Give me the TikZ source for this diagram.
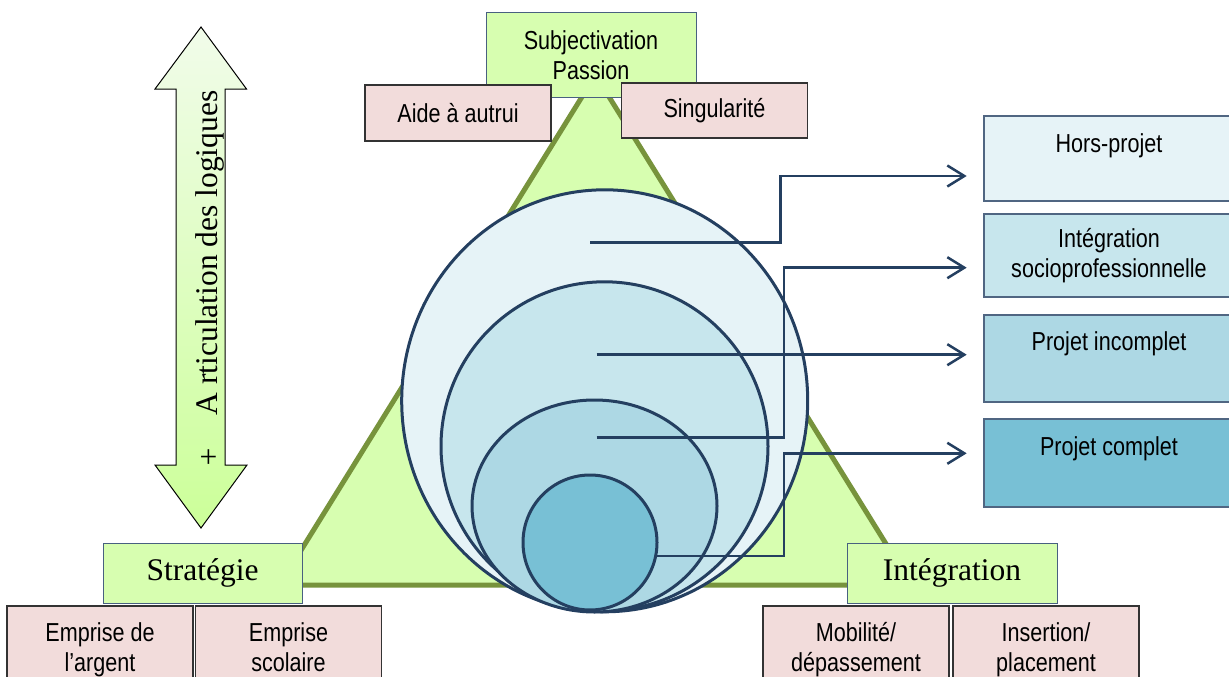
\documentclass[tikz,border=0pt]{standalone}
\usepackage{fontspec}
\setmainfont[FakeStretch=0.83]{Liberation Sans}
\newfontfamily\timesface{Liberation Serif}
\usetikzlibrary{arrows.meta,shapes.geometric,positioning}
\definecolor{trifill}{RGB}{215,254,176}
\definecolor{triline}{RGB}{119,147,60}
\definecolor{pinkfill}{RGB}{242,220,219}
\definecolor{greenline}{RGB}{72,96,128}
\definecolor{navy}{RGB}{36,63,96}
\definecolor{boxline}{RGB}{80,102,130}
\definecolor{blueA}{RGB}{230,243,247}
\definecolor{blueB}{RGB}{199,230,237}
\definecolor{blueC}{RGB}{173,216,228}
\definecolor{blueD}{RGB}{120,192,213}
\definecolor{arrtop}{RGB}{241,252,234}
\definecolor{arrbot}{RGB}{204,255,153}
\tikzstyle{tri}=[draw=triline,fill=trifill,line width=5pt]
\tikzstyle{dblarrow}=[draw=black,line width=1pt,top color=arrtop,bottom color=arrbot]
\tikzstyle{circ}=[ellipse,draw=navy,line width=3pt,inner sep=0pt,outer sep=0pt]
\tikzstyle{arr}=[draw=navy,line width=2.5pt,-{Straight Barb[length=17pt,width=21pt]}]
\tikzstyle{txt}=[font=\fontsize{26}{30}\selectfont,inner sep=0pt]
\tikzstyle{serif}=[font=\timesface\fontsize{31.5}{36}\selectfont,inner sep=0pt]
\tikzstyle{outcome}=[draw=boxline,line width=1.5pt,minimum width=260pt,inner sep=0pt]
\tikzstyle{greenbox}=[draw=greenline,fill=trifill,line width=1pt,inner sep=0pt]
\tikzstyle{pinkbox}=[draw=black!80,fill=pinkfill,line width=1.2pt,minimum width=186pt,inner sep=0pt,
    align=center,font=\fontsize{26}{30}\selectfont]

\begin{document}
\begin{tikzpicture}[x=1pt,y=-1pt]
    \useasboundingbox (0,0) rectangle (1229,677);
    \clip (0,0) rectangle (1229,677);

    % triangle of the three logics
    \coordinate (apex) at (595.5,75);
    \coordinate (left) at (279.5,585);
    \coordinate (right) at (911.5,585);
    \draw[tri] (apex) -- (left) -- (right) -- cycle;

    % double arrow
    \path[dblarrow] (201,27) -- (246.5,89) -- (225,89) -- (225,465) -- (247,465)
        -- (201,528) -- (155,465) -- (176,465) -- (176,89) -- (155,89) -- cycle;
    \begin{scope}
        \clip (176,89) rectangle (225,465);
        \node[serif,rotate=90,anchor=base] (artic) at (217,253) {A rticulation des logiques};
    \end{scope}
    \node[serif] (plus) at (208.5,459) {+};

    % nested circles
    \foreach \pos/\name/\w/\h/\col in {{(604.7,400.8)/c1/406/422/blueA},
    {(604.5,446.3)/c2/327/329/blueB},{(594.5,506)/c3/245/212/blueC},
    {(590,542.5)/c4/134/135/blueD}}
        \node[circ,fill=\col,minimum width=\w pt,minimum height=\h pt] (\name) at \pos {};

    % outcome boxes
    \foreach \y/\h/\name/\col in {158.5/85/hors/blueA,255.5/83/integ/blueB,
    358.5/87/incomp/blueC,463/88/comp/blueD}
        \node[outcome,fill=\col,minimum height=\h pt] (\name) at (1114,\y) {};
    \node[txt,anchor=base] (horsT) at (1109,152) {Hors-projet};
    \node[txt,align=center] (integT) at (1109,256) {Intégration\\socioprofessionnelle};
    \node[txt,anchor=base] (incompT) at (1109,350) {Projet incomplet};
    \node[txt,anchor=base] (compT) at (1109,455) {Projet complet};

    % connectors
    \coordinate (s1) at (590,242.7);
    \coordinate (s2) at (596.7,437.3);
    \coordinate (s3) at (596.7,354.7);
    \coordinate (s4) at (657,556);
    \coordinate (e1) at (966.7,176);
    \coordinate (e2) at (966.7,267.7);
    \coordinate (e3) at (966.7,354.7);
    \coordinate (e4) at (966.7,453.3);
    \draw[arr] (s1) -- (780.7,242.7) |- (e1);
    \draw[arr] (s2) -- (784,437.3) |- (e2);
    \draw[arr] (s3) -- (e3);
    \draw[arr] (s4) -- (784,556) |- (e4);

    % poles
    \node[greenbox,txt,minimum width=210pt,minimum height=84pt,align=center] (subj) at (591,55) {Subjectivation\\Passion};
    \node[pinkbox,minimum height=56pt] (aide) at (458,113) {Aide à autrui};
    \node[pinkbox,minimum height=55pt] (sing) at (714.5,110.5) {Singularité};
    \node[greenbox,serif,minimum width=199pt,minimum height=60pt] (strat) at (202.5,573) {Stratégie};
    \node[greenbox,serif,minimum width=210pt,minimum height=60pt] (integr) at (952,573) {Intégration};
    \node[pinkbox,minimum height=88pt] (argent) at (100,650) {Emprise de\\l’argent};
    \node[pinkbox,minimum height=88pt,text depth=5pt] (scol) at (288.5,650) {Emprise\\scolaire};
    \node[pinkbox,minimum height=88pt] (mobil) at (856,650) {Mobilité/\\dépassement};
    \node[pinkbox,minimum height=88pt,text depth=5pt] (insert) at (1046,650) {Insertion/\\placement};
\end{tikzpicture}
\end{document}
